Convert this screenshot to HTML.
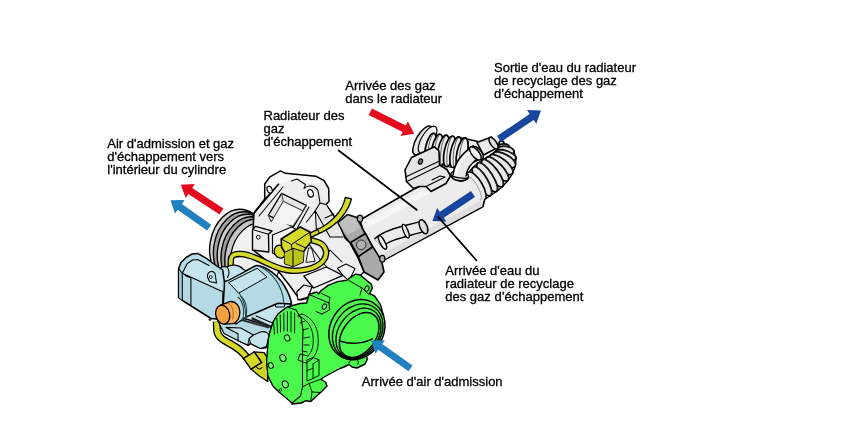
<!DOCTYPE html>
<html lang="fr">
<head>
<meta charset="utf-8">
<title>Vanne EGR</title>
<style>
html,body{margin:0;padding:0;background:#fff;}
body{width:851px;height:427px;overflow:hidden;}
svg{display:block;will-change:transform;}
text{font-family:"Liberation Sans",Arial,sans-serif;font-size:13px;fill:#000;stroke:#000;stroke-width:0.3px;}
.o{stroke:#000;stroke-width:1.6;stroke-linejoin:round;stroke-linecap:round;}
.t{stroke:#000;stroke-width:1.05;stroke-linejoin:round;stroke-linecap:round;fill:none;}
.n{fill:none;}
</style>
</head>
<body>
<svg width="851" height="427" viewBox="0 0 851 427">
<rect width="851" height="427" fill="#fff"/>

<!-- LABELS -->
<g id="labels">
<text x="107.3" y="148.4">Air d'admission et gaz</text>
<text x="107.3" y="161.4">d'échappement vers</text>
<text x="107.3" y="174.4">l'intérieur du cylindre</text>
<text x="263.5" y="120.4">Radiateur des</text>
<text x="263.5" y="133.4">gaz</text>
<text x="263.5" y="146.4">d'échappement</text>
<text x="345.3" y="90.4">Arrivée des gaz</text>
<text x="345.3" y="103.4">dans le radiateur</text>
<text x="494" y="72.4">Sortie d'eau du radiateur</text>
<text x="494" y="85.4">de recyclage des gaz</text>
<text x="494" y="98.4">d’échappement</text>
<text x="445.3" y="274.7">Arrivée d'eau du</text>
<text x="445.3" y="288">radiateur de recyclage</text>
<text x="445.3" y="300.8">des gaz d’échappement</text>
<text x="361.8" y="385.5">Arrivée d'air d'admission</text>
</g>


<!-- COOLER -->
<g id="cooler">
<path style="stroke-width:1.4" class="o" fill="#e4e4e4" d="M468.8,172.3 L473.5,167.0 L478.0,163.0 L482.5,160.0 L486.5,157.5 L490.0,155.5 L493.0,153.5 L495.5,151.5 L497.5,149.0 L498.5,146.5 L499.0,144.0 L504.0,143.8 L509.5,147.0 L514.0,152.0 L516.0,158.5 L515.3,166.0 L512.5,173.5 L508.0,180.5 L502.5,186.5 L496.5,191.5 L490.5,195.5 L484.7,199.4 Z"/>
<ellipse cx="501.5" cy="143.9" rx="2.5" ry="3.0" transform="rotate(-2.3 501.5 143.9)" fill="#e8e8e8" stroke="#000" stroke-width="1.70"/>
<ellipse cx="504.0" cy="146.8" rx="5.5" ry="3.0" transform="rotate(2.6 504.0 146.8)" fill="#e8e8e8" stroke="#000" stroke-width="1.70"/>
<ellipse cx="505.8" cy="150.5" rx="8.4" ry="4.2" transform="rotate(10.3 505.8 150.5)" fill="#e8e8e8" stroke="#000" stroke-width="1.70"/>
<path d="M499.1,148.4 A7.8,2.6 7.4 0 1 514.6,150.4" fill="none" stroke="#333" stroke-width="0.80" stroke-linecap="round"/>
<ellipse cx="505.8" cy="155.0" rx="10.8" ry="4.2" transform="rotate(18.9 505.8 155.0)" fill="#e8e8e8" stroke="#000" stroke-width="1.70"/>
<path d="M497.1,150.9 A10.2,2.6 17.1 0 1 516.6,156.9" fill="none" stroke="#333" stroke-width="0.80" stroke-linecap="round"/>
<ellipse cx="504.1" cy="159.8" rx="12.8" ry="5.6" transform="rotate(29.3 504.1 159.8)" fill="#e8e8e8" stroke="#000" stroke-width="1.70"/>
<path d="M494.6,152.9 A12.1,3.5 28.4 0 1 515.9,164.4" fill="none" stroke="#333" stroke-width="0.80" stroke-linecap="round"/>
<ellipse cx="501.2" cy="164.5" rx="14.4" ry="5.6" transform="rotate(38.7 501.2 164.5)" fill="#e8e8e8" stroke="#000" stroke-width="1.70"/>
<path d="M491.6,154.9 A13.7,3.5 38.3 0 1 513.1,171.9" fill="none" stroke="#333" stroke-width="0.80" stroke-linecap="round"/>
<ellipse cx="497.2" cy="169.0" rx="15.7" ry="5.6" transform="rotate(46.9 497.2 169.0)" fill="#e8e8e8" stroke="#000" stroke-width="1.70"/>
<path d="M488.1,156.9 A15.0,3.5 47.0 0 1 508.6,178.9" fill="none" stroke="#333" stroke-width="0.80" stroke-linecap="round"/>
<ellipse cx="492.5" cy="173.2" rx="16.6" ry="5.6" transform="rotate(53.0 492.5 173.2)" fill="#e8e8e8" stroke="#000" stroke-width="1.70"/>
<path d="M484.1,159.4 A15.9,3.5 53.3 0 1 503.1,184.9" fill="none" stroke="#333" stroke-width="0.80" stroke-linecap="round"/>
<ellipse cx="487.2" cy="177.2" rx="17.0" ry="5.6" transform="rotate(57.0 487.2 177.2)" fill="#e8e8e8" stroke="#000" stroke-width="1.70"/>
<path d="M479.6,162.4 A16.3,3.5 57.5 0 1 497.1,189.9" fill="none" stroke="#333" stroke-width="0.80" stroke-linecap="round"/>
<ellipse cx="482.0" cy="181.2" rx="16.6" ry="5.6" transform="rotate(59.2 482.0 181.2)" fill="#e8e8e8" stroke="#000" stroke-width="1.70"/>
<path d="M475.1,166.4 A15.9,3.5 59.8 0 1 491.1,193.9" fill="none" stroke="#333" stroke-width="0.80" stroke-linecap="round"/>
<path class="o" fill="#ececec" d="M360,220 L412.3,190 L440,176 L468.8,172.3 A15.7,5.6 59.6 0 1 484.7,199.4 L482.8,206.8 L386,259 L372,262 Z"/>
<path fill="#dedede" d="M386,258.4 L482.4,206.3 L480,201 L384,253 Z"/>
<path fill="#f7f7f7" d="M366,222 L412,196 L440,182 L442,186 L368,228 Z"/>
<path d="M466,176 A14,4.6 59.6 0 1 480.5,200.5" fill="none" stroke="#888" stroke-width="0.8"/>
<ellipse cx="422.6" cy="140.4" rx="6.4" ry="16.2" transform="rotate(30 422.6 140.4)" fill="#e4e4e4" stroke="#000" stroke-width="1.5"/>
<ellipse cx="427.6" cy="139.6" rx="6.2" ry="15.2" transform="rotate(30 427.6 139.6)" fill="#ededed" stroke="#000" stroke-width="1.2"/>
<path class="o" fill="#e9e9e9" d="M462,138 L478,141.5 L481,147 L478,160 L462,168 Z"/>
<path d="M430,136 L468,141 L466,170 L428,163 Z" fill="#dcdcdc" stroke="#000" stroke-width="1"/>
<ellipse cx="430.6" cy="148.6" rx="5.2" ry="15.6" transform="rotate(12 430.6 148.6)" fill="#efefef" stroke="#000" stroke-width="1.7"/>
<path d="M432.8,134.3 C428.2,141.6 427.2,154.6 428.4,163.2" fill="none" stroke="#333" stroke-width="0.8"/>
<ellipse cx="436.9" cy="149.5" rx="5.2" ry="15.6" transform="rotate(12 436.9 149.5)" fill="#efefef" stroke="#000" stroke-width="1.7"/>
<path d="M439.1,135.2 C434.5,142.5 433.5,155.5 434.7,164.1" fill="none" stroke="#333" stroke-width="0.8"/>
<ellipse cx="443.2" cy="150.4" rx="5.2" ry="15.6" transform="rotate(12 443.2 150.4)" fill="#efefef" stroke="#000" stroke-width="1.7"/>
<path d="M445.4,136.1 C440.8,143.4 439.8,156.4 441.0,165.0" fill="none" stroke="#333" stroke-width="0.8"/>
<ellipse cx="449.5" cy="151.3" rx="5.2" ry="15.6" transform="rotate(12 449.5 151.3)" fill="#efefef" stroke="#000" stroke-width="1.7"/>
<path d="M451.7,137.0 C447.1,144.3 446.1,157.3 447.3,165.9" fill="none" stroke="#333" stroke-width="0.8"/>
<ellipse cx="455.8" cy="152.2" rx="5.2" ry="15.6" transform="rotate(12 455.8 152.2)" fill="#efefef" stroke="#000" stroke-width="1.7"/>
<path d="M458.0,137.9 C453.4,145.2 452.4,158.2 453.6,166.8" fill="none" stroke="#333" stroke-width="0.8"/>
<ellipse cx="462.1" cy="153.1" rx="5.2" ry="15.6" transform="rotate(12 462.1 153.1)" fill="#efefef" stroke="#000" stroke-width="1.7"/>
<path d="M464.3,138.8 C459.7,146.1 458.7,159.1 459.9,167.7" fill="none" stroke="#333" stroke-width="0.8"/>
<path class="o" fill="#e6e6e6" d="M411.5,157.5 L434.5,146.8 L439,151 L439.5,165 L447,169.5 L450.5,176 L446,183.5 L431,191.5 L426,186.5 L419,186.5 L413.5,188.5 L406.5,181.5 L405,170 Z"/>
<path class="t" d="M405.5,177 L438.5,161.5 M407,181.5 L439.5,165.5 M426,186.5 L445,177 L440,176 L432,180"/>
<ellipse cx="420.5" cy="161.6" rx="1.9" ry="2.7" transform="rotate(25 420.5 161.6)" fill="#777" stroke="#000" stroke-width="1.2"/>
<path class="o" fill="#e9e9e9" d="M477,142.5 L491.5,137 L497,148 L483.5,155 Z"/>
<ellipse cx="493.5" cy="143.2" rx="6.8" ry="3.0" transform="rotate(55.1 493.5 143.2)" fill="#dcdcdc" stroke="#000" stroke-width="1.50"/>
<ellipse cx="459.6" cy="175.6" rx="9" ry="5.2" transform="rotate(8 459.6 175.6)" fill="#e4e4e4" stroke="#000" stroke-width="1.5"/>
<path d="M459.5,176 C460,166.5 465.5,158.5 477,151" fill="none" stroke="#000" stroke-width="14.4" stroke-linecap="butt"/>
<path d="M459.5,176.5 C460,166.5 465.5,158.5 477.5,150.7" fill="none" stroke="#e9e9e9" stroke-width="11.4" stroke-linecap="butt"/>
<path d="M455.5,176 C456.5,166 462,157.5 472,151" fill="none" stroke="#f8f8f8" stroke-width="2.5" stroke-linecap="butt"/>
<path d="M450.7,174.3 A9,5.2 8 0 0 468.5,176.9 A9,2.4 8 0 1 450.7,174.3 Z" fill="#ececec" stroke="#000" stroke-width="1.4" stroke-linejoin="round"/>
<ellipse cx="477.5" cy="152.6" rx="7.9" ry="3.6" transform="rotate(49.4 477.5 152.6)" fill="#e6e6e6" stroke="#000" stroke-width="1.50"/>
<ellipse cx="475.4" cy="153.4" rx="8.1" ry="3.6" transform="rotate(50.0 475.4 153.4)" fill="#efefef" stroke="#000" stroke-width="1.50"/>
<path d="M378,243 C388,234 404,232 424,226" fill="none" stroke="#000" stroke-width="12.2"/>
<path d="M378,243 C388,234 404,232 424,226" fill="none" stroke="#ebebeb" stroke-width="9.3"/>
<ellipse cx="423.5" cy="226.7" rx="7.5" ry="3.6" transform="rotate(66.5 423.5 226.7)" fill="#e6e6e6" stroke="#000" stroke-width="1.50"/>
<path d="M422.5,221.5 C425.5,224 427,229 426,232.5" fill="none" stroke="#999" stroke-width="0.7"/>
<ellipse cx="405.8" cy="231.2" rx="7.3" ry="2.2" transform="rotate(67.8 405.8 231.2)" fill="#ededed" stroke="#000" stroke-width="1.40"/>
<ellipse cx="382.5" cy="242.5" rx="7.4" ry="2.4" transform="rotate(61.7 382.5 242.5)" fill="#ededed" stroke="#000" stroke-width="1.40"/>
</g>

<!-- VALVE -->
<g id="valve">
<ellipse cx="237.0" cy="246.0" rx="27" ry="37" transform="rotate(10 237.0 246.0)" fill="#d4d4d4" stroke="#000" stroke-width="1.4"/>
<ellipse cx="240.8" cy="248.5" rx="27" ry="37" transform="rotate(10 240.8 248.5)" fill="#a4a4a4" stroke="#000" stroke-width="1.4"/>
<ellipse cx="244.6" cy="251.0" rx="27" ry="37" transform="rotate(10 244.6 251.0)" fill="#cfcfcf" stroke="#000" stroke-width="1.4"/>
<ellipse cx="248.4" cy="253.5" rx="27" ry="37" transform="rotate(10 248.4 253.5)" fill="#9c9c9c" stroke="#000" stroke-width="1.4"/>
<ellipse cx="252.2" cy="256.0" rx="27" ry="37" transform="rotate(10 252.2 256.0)" fill="#c4c4c4" stroke="#000" stroke-width="1.4"/>
<ellipse cx="256" cy="258.5" rx="25.5" ry="35.5" transform="rotate(10 256 258.5)" fill="#f1f1f1" stroke="#000" stroke-width="1.2"/>
<path class="o" fill="#a9a9a9" d="M336,224 L347.5,214.5 L357,217.5 L363.5,230.5 L372,245.5 L381.5,260.5 L384,272 L378,280 L364,272 L358.5,257 L349,242 Z"/>
<path fill="#c0c0c0" d="M338,224 L347.8,216 L355.5,218.6 L360,228 L348,235 Z"/>
<path class="o" fill="#a2a2a2" d="M350.5,242.5 L365.5,233.5 L372.5,247 L358.5,256.5 Z"/>
<circle cx="361.2" cy="244.8" r="4.8" fill="#b0b0b0" stroke="#222" stroke-width="0.9"/>
<ellipse cx="360" cy="218.6" rx="2.6" ry="3.4" fill="#b0b0b0" stroke="#000" stroke-width="1.2"/>
<ellipse cx="382.3" cy="258.8" rx="2.6" ry="3.4" fill="#b0b0b0" stroke="#000" stroke-width="1.2"/>
<path style="stroke-width:1.5" class="o" fill="#eeeeee" d="M264.7,199 L264.7,184 L270,176.8 L280.5,170.8 L285.5,173.3 L315.8,176.2 L324,180.5 L328.7,188.5 L329,201.3 L326,204.5 L331,211.5 L335.5,218.5 L341,228.5 L345,238 L350,243 L358,258 L364,272 L345,290 L318,296 L300,300 L290,286 L276,268 L253,250 L253,231 L254,213 Z"/>
<path fill="#f8f8f8" d="M266,184.5 L270.5,178 L280.5,172.3 L285,174.6 L315.5,177.5 L322.5,181 L318,184 L292,180.5 L279,184 L272,190 Z"/>
<path fill="#e8e8e8" d="M317,190 L325,203 L330,212 L337.5,224.5 L343,237 L330,237 L316.4,229.8 L315.3,210.8 Z"/>
<path d="M278.8,183.8 L254,213" fill="none" stroke="#000" stroke-width="1.7"/>
<path class="t" d="M283,187 L259,216 M264.7,199 L271,193"/>
<path style="stroke-width:1.3" class="o" fill="#e6e6e6" d="M281.6,193.4 L306.3,205.3 L293.5,226.8 L268.3,215.4 Z"/>
<path fill="#f3f3f3" d="M283.2,201.2 L303.2,211 L292.6,225.6 L271.3,221.8 Z"/>
<path style="stroke:#444" class="t" d="M281.6,193.4 L283.2,201.2 L303.2,211 L306.3,205.3 M283.2,201.2 L271.3,221.8 L268.3,215.4 M303.2,211 L293,226"/>
<path class="t" d="M309,207 L297.5,227.5"/>
<ellipse cx="310.5" cy="193.3" rx="2.7" ry="3.8" transform="rotate(-20 310.5 193.3)" fill="#fff" stroke="#000" stroke-width="1.2"/>
<ellipse cx="269.6" cy="189.6" rx="2.4" ry="3.6" transform="rotate(-20 269.6 189.6)" fill="#fff" stroke="#000" stroke-width="1.2"/>
<path class="t" d="M291.5,181 L297,179 L305.5,184.5 L304,188.5 M304,188.5 C308,184.5 315,185.5 318,190.5 M318,190.5 L320,203 L315.3,210.8 M320,203 L326,204.5"/>
<path class="t" d="M315.3,210.8 L316.4,229.8 M315.3,210.8 L330,237 M315.3,210.8 L306.5,222 M325,218 L334,214 M330,237 L343,237 M306,240 L322,262 L336,276 M322,262 L330,250 M330,250 L342,262"/>
<path style="stroke-width:1.3" class="o" fill="#f3f3f3" d="M303.8,276 L326.3,267 L343,275.3 L313.6,288 Z"/>
<path style="stroke-width:1.1" class="o" fill="#f0f0f0" d="M337.5,268.3 L346,264 L355,268.5 L349,281 L343,275.3 Z"/>
<path style="stroke-width:1.2" class="o" fill="#f3f3f3" d="M296.7,292 L303.8,285 L312,287 L308,297 L298,300 Z"/>
<path style="stroke-width:1.2" class="o" fill="#f6f6f6" d="M272.5,235 L291.5,227 L297,230 L297,246 L278,256 L272.5,253 Z"/>
<path style="stroke-width:1.4" class="o" fill="#ececec" d="M252.5,229.5 L255.5,226.3 L272,231 L268.5,234.2 L268.8,252 L252.5,250 Z"/>
<path class="t" d="M252.5,229.5 L268.5,234.2"/>
<circle cx="258.3" cy="237.2" r="1.9" fill="#fff" stroke="#000" stroke-width="1"/>
</g>

<!-- ACTUATOR -->
<g id="actuator">
<path d="M345.2,197.5 L344.7,199.9 L344.0,202.2 L343.1,204.6 L342.0,207.0 L340.6,209.3 L339.1,211.7 L337.4,214.0 L335.4,216.3 L333.3,218.5 L331.0,220.6 L328.5,222.7 L325.8,224.7 L323.0,226.5 L320.0,228.2 L307.1,234.6 L308.9,238.4 L322.0,232.2 L325.3,230.4 L328.4,228.6 L331.4,226.6 L334.2,224.5 L336.8,222.2 L339.2,219.9 L341.5,217.5 L343.5,215.0 L345.4,212.4 L347.0,209.7 L348.5,207.1 L349.7,204.3 L350.7,201.6 L351.4,198.9 Z" fill="#d4d92a" stroke="#000" stroke-width="1.30" stroke-linejoin="round"/>
<path class="t" d="M317,228.6 L319,232.6"/>
<path d="M230.6,269 L230.8,260 C231,254.5 236,253.8 241,254 C256,254.5 268,266.5 286,270 C300,272.5 316,269 323,261 C329,253.5 326,244 316,241.5 L309,239.5" fill="none" stroke="#000" stroke-width="6.4" stroke-linecap="butt" stroke-linejoin="round"/><path d="M230.6,269 L230.8,260 C231,254.5 236,253.8 241,254 C256,254.5 268,266.5 286,270 C300,272.5 316,269 323,261 C329,253.5 326,244 316,241.5 L309,239.5" fill="none" stroke="#d4d92a" stroke-width="3.8" stroke-linecap="butt" stroke-linejoin="round"/>
<path style="stroke-width:0.9" class="o" fill="#f2f2f2" d="M306,262 L308.5,248 L311.5,248 L315,261 Z"/>
<ellipse cx="280" cy="251.6" rx="5.6" ry="6.6" transform="rotate(-25 280 251.6)" fill="#d4d92a" stroke="#000" stroke-width="1.2"/>
<path class="o" fill="#d4d92a" d="M281.2,239 L300.2,227 L310,232 L311.4,241.5 L306,248 L303.7,251.6 L303,262 L293,266.4 L284.7,263.6 L284.7,252.3 L281.5,247 Z"/>
<path fill="#bcc21c" d="M284.7,252.3 L293,248.5 L303.7,251.6 L303,262 L293,266.4 L284.7,263.6 Z"/>
<path style="stroke-width:1" class="t" d="M281.2,239 L291.5,244.5 L310,232 M291.5,244.5 L291.8,249 M284.7,252.3 L293,248.3 L303.7,251.6 M293,248.3 L293,266 M296,243.5 L306,248"/>
<path d="M216.7,321.5 L217,330 C217.5,337.5 224,340.5 231,344.2 C238,347.8 243,352 247,358" fill="none" stroke="#000" stroke-width="7.9" stroke-linecap="butt" stroke-linejoin="round"/><path d="M216.7,321.5 L217,330 C217.5,337.5 224,340.5 231,344.2 C238,347.8 243,352 247,358" fill="none" stroke="#d4d92a" stroke-width="5.2" stroke-linecap="butt" stroke-linejoin="round"/>
<path style="stroke-width:1.3" class="o" fill="#cdd225" d="M254.2,351.9 L264,352.7 L267.5,358 L267.8,381.5 L259,375.7 L250.9,369.1 L261.6,362.5 Z"/>
<path style="stroke-width:1.4" class="o" fill="#d4d92a" d="M243.5,358.4 L254.2,351.9 L261.6,362.5 L250.9,369.1 Z"/>
<path class="t" d="M256.5,367 C258,369.5 260.5,369.5 262,367.5"/>
<path style="stroke-width:1.3" class="o" fill="#b5dae5" d="M216,317 L240,317 L272,326 L270,347 L260.5,348.5 L250.6,343.6 L248.3,345.5 L238.5,341 L224,333.5 Z"/>
<path style="stroke-width:1.1" class="o" fill="#c6e4ed" d="M226,327.4 L240.8,328 L253.4,335 L249.2,338.7 L247.8,345 L238,340.8 L238,333.8 Z"/>
<path style="stroke-width:1.1" class="o" fill="#c6e4ed" d="M253.4,335 L261.9,331.6 C266,331.5 269,333 268.9,336 L266.5,346.4 L260.5,348.5 L250.6,343.6 L249.2,338.7 Z"/>
<path d="M240,319.5 L269,327.5" stroke="#333" stroke-width="2.2" fill="none"/>
<path style="stroke-width:1.2" class="o" fill="#c6e4ed" d="M240,317 L278,303 L291.5,304 L288,311 L272,327 Z"/>
<path d="M251.5,318.2 L271,326.8" stroke="#222" stroke-width="2.4" fill="none"/>
<path class="t" d="M256,316 L275,324"/>
<path style="stroke-width:1.1" class="o" fill="#c6e4ed" d="M273,300 C273,295 279,293.5 282,296 L286,301 L284,307 L276,307 Z"/>
<circle cx="279.3" cy="300.6" r="1.6" fill="#e8f4f8" stroke="#000" stroke-width="0.8"/>
<path style="stroke-width:1.5" class="o" fill="#b5dae5" d="M224,282 L256.4,265.4 C266,266 278,275 284.5,286 C288,292 291,299 291.5,304 L278,303.3 L246,317 L236,324 C226,322 219,300 224,282 Z"/>
<path style="stroke-width:1" class="o" fill="#c6e4ed" d="M229,282.3 L257.2,268.3 L267,277 L239,293 Z"/>
<path style="stroke:#244" class="t" d="M259.5,266.5 C268,270 277,279 281,290 C283,296 284,301 283.5,303.5 M239,293 C243,298 246,308 245.5,316.5"/>
<path style="stroke:#244" class="t" d="M238,297 C243,301 245.5,312 242,321 M240.5,296 C246,300 248.5,311 245,320"/>
<path style="stroke-width:1.2" class="o" fill="#c6e4ed" d="M217,275 C217,268.5 222,265.5 227,267 C231,264 239,264.5 243,269 L246,271 L229,280 L222,282 Z"/>
<path class="t" d="M227,267 C229.5,270 229.5,274 227.5,277.5"/>
<path style="stroke-width:1.5" class="o" fill="#b5dae5" d="M178.6,268.5 L181,262.5 L186,257.5 L192,254 L197.5,253.4 L206.5,258.3 L212.5,263 L222.8,270 L224.5,283 L223.5,300 L222.5,314 L217,319 L211,318.5 L182.5,300.5 L178.6,297.6 Z"/>
<path fill="#c6e4ed" d="M187.2,263.8 L192.5,260 L197.5,259.5 L209,265.5 L221.5,276 L222.3,290.5 L183.2,273 Z"/>
<path fill="#a0ccd9" d="M179.2,269.5 L182.3,273.3 L182.3,300 L179.2,297.4 Z"/>
<path class="t" d="M182.3,273.3 L222.8,291.7 M182.3,273.3 L182.3,300.3 M182.3,273.3 L187.2,263.8 L192.5,260 L197.5,259.5 L209,265.5 M190.9,278 L190.9,305.5 M185.2,275.5 L190.9,278 M222.8,291.7 L222.5,314 M178.6,268.5 L182.3,273.3"/>
<path style="stroke-width:1.1" class="o" fill="#c6e4ed" d="M207.5,277 C207,271.5 212.5,269.5 215,273.5 L216.5,283 L209.5,281.5 Z"/>
<circle cx="210.8" cy="277" r="1.5" fill="#e8f4f8" stroke="#000" stroke-width="0.8"/>
<circle cx="210" cy="319.6" r="1.4" fill="#333"/>
<path style="stroke-width:1.3" class="o" fill="#f8ae52" d="M220.2,305.3 L229.6,301.6 C236,300.8 240.3,306.5 239.8,313.5 C239.4,318.5 236.5,322.3 233,323.6 L224.5,324 Z"/>
<ellipse cx="222.7" cy="314.6" rx="6.9" ry="9.6" transform="rotate(-14 222.7 314.6)" fill="#f5a141" stroke="#000" stroke-width="1.3"/>
<path d="M227.5,303 C232.5,305 234.5,312 232.5,319.5" fill="none" stroke="#9c5a14" stroke-width="0.8"/>
</g>

<!-- THROTTLE -->
<g id="throttle">
<path style="stroke-width:1.4" class="o" fill="#4bf94d" d="M306.6,303 L309,294.5 L316.5,292 L318.8,293.8 L320.7,291 L328.2,285.4 L337.6,281.6 L347,280.2 L349.8,277.9 L355.5,274.1 L360.2,275 L371.4,284.4 L372.4,288.2 L369.5,293.5 L374.6,296 L380.3,304.3 L383.6,316 L382.8,329.5 L377,342.6 L366.5,355 L367.3,359.5 L365,364 L357,368 L352,367 L349,364.5 L344,367 L340,368.5 L324,377 L321,379.5 L325.5,382 L327,386 L320.6,392.5 L310.7,401.5 L306,400.7 L301,403 L292,404 L290.2,399.8 L279.6,392.5 L273,386 L268,376 L266.7,361.3 L268.3,340 L270,332 L273,322.3 L278,314 L287.3,307 L300,303.5 Z"/>
<path style="stroke-width:1.1" class="o" fill="#4bf94d" d="M270,332 L273,322.3 L278,314 L287.3,307 L296,310 L301,318 L303,330 L302.5,345 L302.5,356 L302.5,387 L300.5,396 L292,403 L279.6,392.5 L273,386 L268,376 L266.7,361.3 L268.3,340 Z"/>
<path style="stroke-width:0.9" class="t" d="M273.5,322.0 L274.5,334.0 M276.8,318.0 L277.5,333.0 M280.2,315.0 L280.6,332.0 M283.8,313.0 L284.0,331.0 M287.4,311.5 L287.4,331.0 M291.0,311.5 L291.0,332.0 M294.6,313.0 L294.6,333.0"/>
<path style="stroke-width:0.9" class="t" d="M298,316 C306,318 312,326 313,336 C314,346 312,352 308,356 M302,314 C311,317 317,325 318,336 C319,346 317,354 312,359 M298,316 L302,314 M300,323 L305,321 M303,330 L308,328.5 M304,338 L309.5,337 M304,345 L309,345 M302,351 L307,352 M308,356 L300,354 L298,360 L306,363 M306,363 L312,359"/>
<path style="stroke-width:0.9" class="t" d="M307,360 L307,381 L313,378.5 L313,364 M307,360 L313,357.5 L319,360 L319,375.5 L313,378.5 M313,364 L319,360 M307,370.5 L313,368.5 M302.5,387 L309,383.5 L320.6,379.3 M309,383.5 L312,392 L320.6,392.5 M312,392 L310.7,401.5"/>
<ellipse cx="282.9" cy="358.0" rx="2.9" ry="3.6" transform="rotate(-25 282.9 358.0)" fill="#6cfc6e" stroke="#000" stroke-width="1"/>
<ellipse cx="270.8" cy="365.4" rx="2.4" ry="3.0" transform="rotate(-25 270.8 365.4)" fill="#6cfc6e" stroke="#000" stroke-width="1"/>
<ellipse cx="285.3" cy="384.3" rx="2.9" ry="3.6" transform="rotate(-25 285.3 384.3)" fill="#6cfc6e" stroke="#000" stroke-width="1"/>
<ellipse cx="287.2" cy="338.0" rx="2.6" ry="3.2" transform="rotate(-25 287.2 338.0)" fill="#6cfc6e" stroke="#000" stroke-width="1"/>
<circle cx="280.4" cy="390" r="1.3" fill="#6cfc6e" stroke="#000" stroke-width="0.8"/>
<path style="stroke-width:1" class="t" d="M309,294.5 L329,303 L329.5,310 L322,314 M321.5,293.5 L330,297.5 L329,303 M322,314 L316,311.5 M349,280.6 L362,288 L369,294.5 M362,288 L360,295"/>
<ellipse cx="324.4" cy="306.6" rx="2" ry="2.8" transform="rotate(30 324.4 306.6)" fill="#6cfc6e" stroke="#000" stroke-width="1"/>
<ellipse cx="367" cy="288.6" rx="2" ry="2.8" transform="rotate(30 367 288.6)" fill="#6cfc6e" stroke="#000" stroke-width="1"/>
<ellipse cx="356.9" cy="329.6" rx="31.4" ry="26.6" transform="rotate(-57.0 356.9 329.6)" fill="#4bf94d" stroke="#000" stroke-width="1.5"/>
<ellipse cx="357.7" cy="331.4" rx="29.2" ry="23.3" transform="rotate(-56.0 357.7 331.4)" fill="#4bf94d" stroke="#000" stroke-width="1.3"/>
<ellipse cx="358.5" cy="333.2" rx="27.0" ry="20.0" transform="rotate(-55.0 358.5 333.2)" fill="#4bf94d" stroke="#000" stroke-width="1.3"/>
<ellipse cx="359.2" cy="335.0" rx="24.9" ry="16.6" transform="rotate(-54.2 359.2 335.0)" fill="#4bf94d" stroke="#000" stroke-width="1.5"/>
<path d="M339.7,341 C350,344.5 363,344 372.8,338.6" fill="none" stroke="#000" stroke-width="1.4"/>
<path style="stroke-width:1" class="t" d="M349,363 C350,360 353,358 356,359 M356,359 C358,360 359,362 358,364"/>
</g>

<!-- ARROWS -->
<g id="arrows">
<polygon fill="#e30b1d" points="223.4,208.5 192.2,188.0 194.8,184.1 180.8,184.8 185.7,197.9 188.3,194.0 219.6,214.5"/>
<polygon fill="#2080c0" points="211.3,224.8 181.8,203.9 184.5,200.1 170.5,200.3 175.0,213.6 177.7,209.7 207.1,230.6"/>
<polygon fill="#e30b1d" points="368.7,115.0 402.6,131.9 400.5,136.1 414.3,133.8 407.9,121.4 405.8,125.6 371.9,108.6"/>
<polygon fill="#17469e" points="501.0,141.9 533.6,119.9 536.3,123.8 541.0,110.6 527.0,110.1 529.7,114.0 497.0,136.1"/>
<polygon fill="#17469e" points="471.0,191.0 439.8,211.8 437.2,207.9 432.4,221.0 446.4,221.6 443.8,217.7 475.0,197.0"/>
<polygon fill="#2080c0" points="412.5,365.4 382.3,344.0 385.0,340.2 371.0,340.4 375.5,353.7 378.2,349.8 408.5,371.2"/>
</g>

<!-- LEADERS -->
<g id="leaders">
<path d="M338,150 L417.3,210.3" stroke="#000" stroke-width="1.7" fill="none"/>
<path d="M437.7,216.4 L477,261" stroke="#000" stroke-width="1.7" fill="none"/>
</g>
</svg>
</body>
</html>
